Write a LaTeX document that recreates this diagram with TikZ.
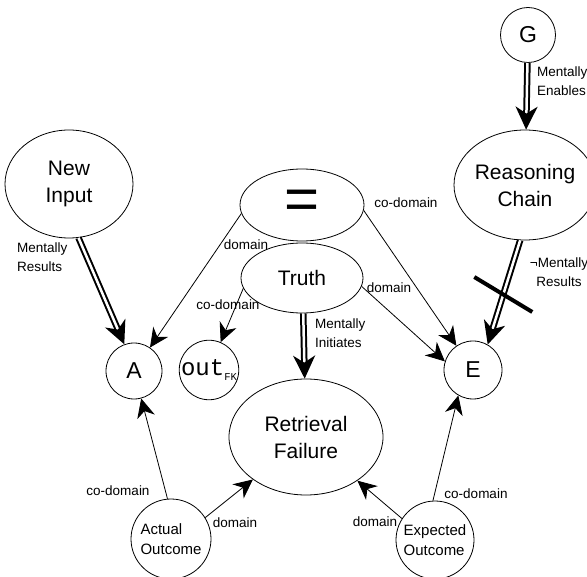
\documentclass[tikz,border=0pt]{standalone}
\usepackage{fontspec}
\setmainfont{Liberation Sans}
\setmonofont{Liberation Mono}
\usetikzlibrary{shapes.geometric,arrows.meta,calc}
\begin{document}
\begin{tikzpicture}[x=1pt,y=-1pt,
  ell/.style={ellipse, draw, line width=0.8pt, inner sep=0pt},
  circ/.style={circle, draw, line width=0.8pt, inner sep=0pt},
  big/.style={font=\fontsize{21}{27}\selectfont, align=center},
  letter/.style={font=\fontsize{23}{23}\selectfont},
  small/.style={font=\fontsize{15}{20}\selectfont, align=left},
  lbl/.style={font=\fontsize{13.5}{19}\selectfont, inner sep=0pt},
  thinarrow/.style={line width=0.8pt, -{Stealth[length=19pt,width=18pt,inset=6pt]}},
  dbl/.style={double, double distance=2.5pt, line width=2pt, -{Stealth[length=23pt,width=22pt,inset=7pt]}},
]
\useasboundingbox (0,0) rectangle (587,577);

% nodes
\node[ell, minimum width=128pt, minimum height=108pt, big] (NI) at (69,184) {New\\Input};
\node[ell, minimum width=124pt, minimum height=72pt, font=\fontsize{60}{60}\selectfont] (eq) at (302,205) {=};
\node[ell, minimum width=122pt, minimum height=70pt, big] (truth) at (302,278) {Truth};
\node[circ, minimum size=55pt, letter] (G) at (528,35) {G};
\node[ell, minimum width=122pt, minimum height=110pt, big] (RC) at (525,185) {Reasoning\\Chain};
\node[circ, minimum size=56pt, letter] (A) at (134,371) {A};
\node[circ, minimum size=58pt] (out) at (209,370) {\fontsize{24}{24}\selectfont\ttfamily out\raisebox{-5pt}{\fontsize{10.5}{10.5}\selectfont FK}};
\node[ell, minimum width=154pt, minimum height=116pt, big] (RF) at (306,437) {Retrieval\\Failure};
\node[circ, minimum size=58pt, letter] (E) at (473,370) {E};
\node[circ, minimum size=80pt, small] (AO) at (171,539) {Actual\\Outcome};
\node[circ, minimum size=78pt, small] (EO) at (435,540) {Expected\\Outcome};

% double (mental) arrows
\draw[dbl] (NI.-80) -- (A.110);
\draw[dbl] (G) -- (RC);
\draw[dbl] (truth.-88) -- (RF);
\draw[dbl] (RC.-95) -- (E.60);
\coordinate (X) at ($(RC.-95)!0.52!(E.60)$);
\draw[line width=4pt] ($(X)+(-29,-17.5)$) -- ($(X)+(29,17.5)$);

% thin arrows
\draw[thinarrow] (eq.188) -- (A);
\draw[thinarrow] (truth.190) -- (out);
\draw[thinarrow] (eq.-5) -- (E);
\draw[thinarrow] (truth.-8) -- (E.163);
\draw[thinarrow] (AO.95) -- (A);
\draw[thinarrow] (AO.32) -- (RF);
\draw[thinarrow] (EO.147) -- (RF);
\draw[thinarrow] (EO.93) -- (E.240);

% labels
\node[lbl, anchor=west, align=left] (l1) at (17,257) {Mentally\\Results};
\node[lbl] (l2) at (246,245) {domain};
\node[lbl] (l3) at (228,305) {co-domain};
\node[lbl, anchor=west, align=left] (l4) at (315,333) {Mentally\\Initiates};
\node[lbl] (l5) at (406,203) {co-domain};
\node[lbl] (l6) at (389,288) {domain};
\node[lbl, anchor=west, align=left] (l7) at (537,81) {Mentally\\Enables};
\node[lbl, align=center] (l8) at (559,272) {¬Mentally\\Results};
\node[lbl] (l9) at (118,491) {co-domain};
\node[lbl] (l10) at (235,523) {domain};
\node[lbl] (l11) at (375,522) {domain};
\node[lbl] (l12) at (476,494) {co-domain};
\end{tikzpicture}
\end{document}
